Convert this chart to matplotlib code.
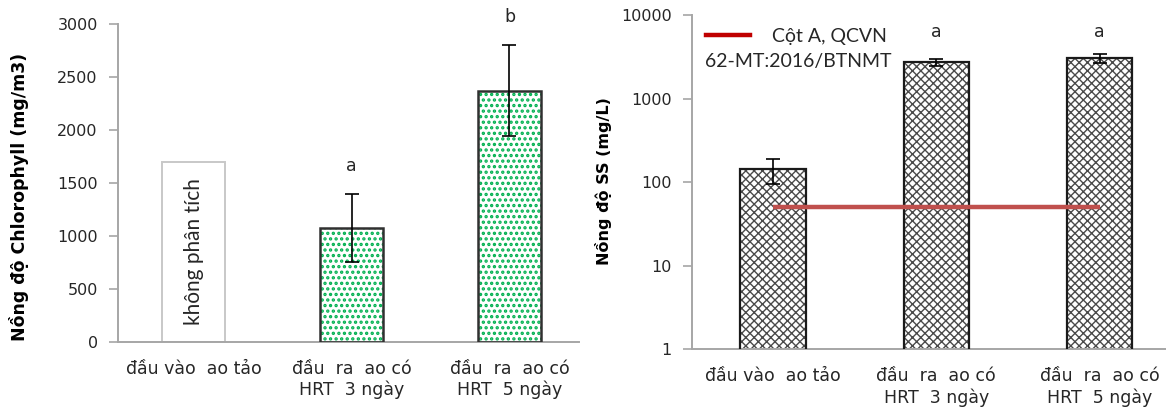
import matplotlib
matplotlib.use("Agg")
import matplotlib.pyplot as plt
from matplotlib.lines import Line2D
import numpy as np

# ---------------- data ----------------
categories = ["đầu vào  ao tảo", "đầu  ra  ao có\nHRT  3 ngày", "đầu  ra  ao có\nHRT  5 ngày"]

chl_values = [1700, 1076, 2370]      # first bar is a placeholder ("không phân tích")
chl_errors = [0, 320, 430]
chl_letters = ["", "a", "b"]

ss_values = [142, 2710, 3030]
ss_errors = [47, 280, 350]
ss_letters = ["", "a", "a"]

qcvn_limit = [50, 50, 50]

left_yticks = [0, 500, 1000, 1500, 2000, 2500, 3000]
right_yticks = [1, 10, 100, 1000, 10000]
# --------------------------------------

W, H = 1166, 411
fig = plt.figure(figsize=(W / 100, H / 100), dpi=100)
plt.rcParams['hatch.linewidth'] = 1.6

spine_col = "#a6a6a6"
txt_col = "#262626"
tick_fs = 11.5
xlab_fs = 12.5


def fig_axes(x0, x1, ytop, ybot):
    return fig.add_axes([x0 / W, (H - ybot) / H, (x1 - x0) / W, (ybot - ytop) / H])


def style(ax):
    for s in ("top", "right"):
        ax.spines[s].set_visible(False)
    for s in ("left", "bottom"):
        ax.spines[s].set_color(spine_col)
        ax.spines[s].set_linewidth(1.4)
    ax.tick_params(axis="y", direction="out", length=6.5, width=1.2, color=spine_col,
                   labelsize=tick_fs, labelcolor=txt_col, pad=8)
    ax.tick_params(axis="x", length=0, labelsize=xlab_fs, labelcolor=txt_col, pad=13)


# ---------------- left chart ----------------
axL = fig_axes(118, 579, 24, 341.7)
x = np.arange(len(categories))
bw = 0.40

# placeholder bar
axL.bar(x[0], chl_values[0], bw, color="white", edgecolor="#c8c8c8", linewidth=1.4, zorder=2)
axL.text(x[0], 850, "không phân tích", rotation=90, ha="center", va="center",
         fontsize=15, family="Lato", color=txt_col)

# dotted green bars
axL.bar(x[1:], chl_values[1:], bw, color="white", edgecolor="#00b050", hatch="...",
        linewidth=0, zorder=2)
axL.bar(x[1:], chl_values[1:], bw, fill=False, edgecolor="#303030", linewidth=1.8, zorder=3)
axL.errorbar(x[1:], chl_values[1:], yerr=chl_errors[1:], fmt="none", ecolor="black",
             elinewidth=1.2, capsize=5, capthick=1.2, zorder=4)
for xi, v, e, lab in zip(x, chl_values, chl_errors, chl_letters):
    if lab:
        axL.annotate(lab, (xi, v + e), xytext=(0, 20), textcoords="offset points",
                     ha="center", va="center", fontsize=12.5, color=txt_col,
                     annotation_clip=False)

axL.set_xlim(-0.478, 2.44)
axL.set_ylim(0, 3000)
axL.set_yticks(left_yticks)
axL.set_xticks(x)
axL.set_xticklabels(categories, linespacing=1.2)
style(axL)
fig.text(19 / W, 1 - 197 / H, "Nồng độ Chlorophyll (mg/m3)", rotation=90, ha="center",
         va="center", fontsize=12.5, fontweight="bold", color="black")

# ---------------- right chart ----------------
axR = fig_axes(691.7, 1166, 15, 349.3)
axR.set_yscale("log")
hatched = axR.bar(x, ss_values, bw, bottom=0, color="white", edgecolor="#4a4a4a",
                  hatch="xxxx", linewidth=0, zorder=2)
for p in hatched:
    if hasattr(p, "set_hatch_linewidth"):
        p.set_hatch_linewidth(1.0)
axR.bar(x, ss_values, bw, fill=False, edgecolor="#1a1a1a", linewidth=1.6, zorder=3)
axR.errorbar(x, ss_values, yerr=ss_errors, fmt="none", ecolor="black",
             elinewidth=1.2, capsize=5, capthick=1.2, zorder=4)
axR.plot(x, qcvn_limit, color="#c0504d", linewidth=3.2, zorder=5, solid_capstyle="butt")
for xi, lab in zip(x, ss_letters):
    if lab:
        axR.text(xi, 6300, lab, ha="center", va="center", fontsize=12.5, color=txt_col)

axR.set_xlim(-0.498, 2.406)
axR.set_ylim(1, 10000)
axR.set_yticks(right_yticks)
axR.set_yticklabels([str(t) for t in right_yticks])
axR.minorticks_off()
axR.set_xticks(x)
axR.set_xticklabels(categories, linespacing=1.2)
style(axR)

handle = Line2D([], [], color="#c00000", linewidth=3.2)
axR.legend([handle], ["Cột A, QCVN"], loc="center left",
           bbox_to_anchor=((705.7 - 691.7) / (1166 - 691.7), (349.3 - 36) / (349.3 - 15)),
           frameon=False, borderpad=0, borderaxespad=0, handlelength=2.3, handletextpad=1.1,
           prop={"family": "Lato", "size": 14}, labelcolor=txt_col)
axR.text((705 - 691.7) / (1166 - 691.7), (349.3 - 61) / (349.3 - 15), "62-MT:2016/BTNMT",
         transform=axR.transAxes, ha="left", va="center", fontsize=14, family="Lato",
         color=txt_col)
fig.text(603 / W, 1 - 181 / H, "Nồng độ SS (mg/L)", rotation=90, ha="center",
         va="center", fontsize=11.5, fontweight="bold", color="black")

fig.savefig("out.png", dpi=100)
